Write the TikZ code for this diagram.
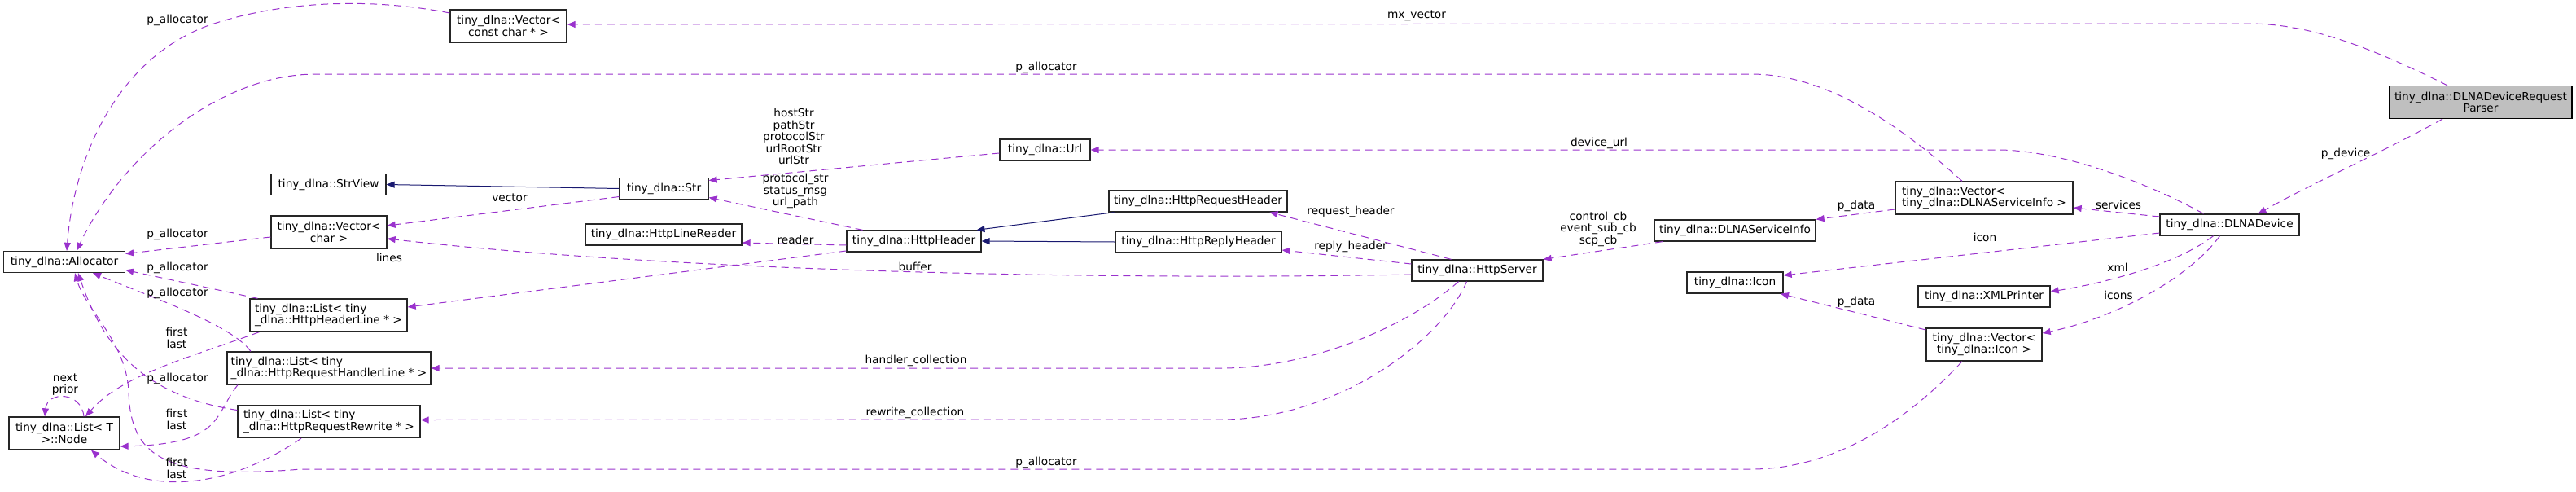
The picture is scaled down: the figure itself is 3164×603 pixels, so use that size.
\documentclass[tikz,border=0pt]{standalone}
\usepackage{fontspec}
\setmainfont{DejaVu Sans}
\usepackage[HTML]{xcolor}
\usepackage{tikz}
\usetikzlibrary{arrows.meta, calc}

\definecolor{usecol}{HTML}{9A32CD}
\definecolor{inhcol}{HTML}{191970}
\definecolor{focusfill}{HTML}{BFBFBF}
\newcommand{\dxfont}{\fontsize{13.7pt}{14.5pt}\selectfont}

\begin{document}
\begin{tikzpicture}[x=1pt, y=-1pt,
  cls/.style={draw=black!85, line width=1.3pt, fill=white, font=\dxfont, align=center, inner sep=0pt, minimum height=26pt},
  cls2/.style={cls, minimum height=40pt},
  dep/.style={usecol, line width=1pt, dash pattern=on 9pt off 6pt, -{Triangle[length=10pt,width=8pt]}},
  inh/.style={inhcol, line width=1pt, -{Triangle[length=10pt,width=8pt]}},
  lbl/.style={font=\dxfont, align=center, inner sep=0pt}]
\useasboundingbox (0,0) rectangle (3164,603);

% --- Classes ---
\node[cls2, fill=focusfill, draw=black, minimum width=224pt] (parser) at (3047,125.5) {tiny\_dlna::DLNADeviceRequest\\Parser};
\node[cls2, minimum width=143pt] (vecconst) at (624.5,32) {tiny\_dlna::Vector<\\const char * >};
\node[cls, minimum width=149pt] (alloc) at (79,321.5) {tiny\_dlna::Allocator};
\node[cls2, minimum width=136pt] (listnode) at (79,532) {tiny\_dlna::List< T\\>::Node};
\node[cls, minimum width=141pt] (strview) at (403.5,226.5) {tiny\_dlna::StrView};
\node[cls2, minimum width=142pt] (vecchar) at (404,285) {tiny\_dlna::Vector<\\char >};
\node[cls2, minimum width=193pt, align=left] (listhdr) at (403.5,387) {tiny\_dlna::List< tiny\\\_dlna::HttpHeaderLine * >};
\node[cls2, minimum width=250pt, align=left] (listhnd) at (404,452) {tiny\_dlna::List< tiny\\\_dlna::HttpRequestHandlerLine * >};
\node[cls2, minimum width=224pt, align=left] (listrw) at (404,517.5) {tiny\_dlna::List< tiny\\\_dlna::HttpRequestRewrite * >};
\node[cls, minimum width=109pt] (str) at (815.5,231.5) {tiny\_dlna::Str};
\node[cls, minimum width=192pt] (linerd) at (815,288) {tiny\_dlna::HttpLineReader};
\node[cls, minimum width=165pt] (httphdr) at (1122.5,296) {tiny\_dlna::HttpHeader};
\node[cls, minimum width=111pt] (url) at (1283.5,184) {tiny\_dlna::Url};
\node[cls, minimum width=219pt] (httpreq) at (1471.5,247) {tiny\_dlna::HttpRequestHeader};
\node[cls, minimum width=204pt] (httprep) at (1472,297) {tiny\_dlna::HttpReplyHeader};
\node[cls, minimum width=161pt] (httpsrv) at (1814.5,332) {tiny\_dlna::HttpServer};
\node[cls, minimum width=198pt] (svcinfo) at (2131,283) {tiny\_dlna::DLNAServiceInfo};
\node[cls2, minimum width=218pt, align=left] (vecsvc) at (2437,243) {tiny\_dlna::Vector<\\ tiny\_dlna::DLNAServiceInfo >};
\node[cls, minimum width=118pt] (icon) at (2131,347) {tiny\_dlna::Icon};
\node[cls, minimum width=162pt] (xmlp) at (2437,364) {tiny\_dlna::XMLPrinter};
\node[cls2, minimum width=142pt] (vecicon) at (2437,423) {tiny\_dlna::Vector<\\tiny\_dlna::Icon >};
\node[cls, minimum width=171pt] (device) at (2738.5,276) {tiny\_dlna::DLNADevice};

% --- Inheritance (solid) ---
\draw[inh] (str.west) -- (strview.east);
\draw[inh] ([xshift=-103pt]httpreq.south) -- ([xshift=77pt]httphdr.north);
\draw[inh] (httprep.west) -- (httphdr.east);

% --- Usage (dashed) ---
\draw[dep] ([xshift=-41pt]parser.north) .. controls (2900,52) and (2830,29) .. (2761,29) -- ([yshift=2pt]vecconst.east);
\draw[dep] ([xshift=-47pt]parser.south) .. controls (2930,185) and (2840,225) .. ([xshift=35pt]device.north);
\draw[dep] ([yshift=16pt]vecconst.west) .. controls (450,-4) and (340,2) .. (254,32) .. controls (140,75) and (90,200) .. ([xshift=3pt]alloc.north);
\draw[dep] ([xshift=-27pt]vecsvc.north) .. controls (2330,150) and (2240,91) .. (2151,91) -- (388,91) .. controls (270,91) and (150,190) .. ([xshift=15pt]alloc.north);
\draw[dep] ([yshift=-6pt]vecchar.west) -- ([yshift=10pt]alloc.east);
\draw[dep] ([xshift=-87pt]listhdr.north) -- ([yshift=-10pt]alloc.east);
\draw[dep] ([xshift=-96pt]listhnd.north) .. controls (285,400) and (200,370) .. ([xshift=35pt]alloc.south);
\draw[dep] ([yshift=14pt]listrw.west) .. controls (170,485) and (125,420) .. ([xshift=17pt]alloc.south);
\draw[dep] ([xshift=-27pt]vecicon.south) .. controls (2330,530) and (2240,576) .. (2151,576) -- (370,576) .. controls (200,590) and (160,560) .. (158,480) .. controls (155,420) and (105,380) .. ([xshift=13pt]alloc.south);
\draw[dep] ([yshift=-10pt]str.west) -- ([yshift=8pt]vecchar.east);
\draw[dep] ([yshift=-5pt]httpsrv.west) .. controls (1300,345) and (800,330) .. ([yshift=-8pt]vecchar.east);
\draw[dep] ([yshift=-4pt]url.west) -- ([yshift=10pt]str.east);
\draw[dep] ([xshift=-63pt]httphdr.north) -- ([yshift=-11pt]str.east);
\draw[dep] ([yshift=-5pt]httphdr.west) -- ([yshift=-10pt]linerd.east);
\draw[dep] ([yshift=-12pt]httphdr.west) -- ([yshift=10pt]listhdr.east);
\draw[dep] ([xshift=-32pt]httpsrv.north) -- ([xshift=88pt]httpreq.south);
\draw[dep] ([yshift=8pt]httpsrv.west) -- ([yshift=-10pt]httprep.east);
\draw[dep] ([xshift=-23pt]httpsrv.south) .. controls (1730,400) and (1610,452) .. (1500,452) -- (listhnd.east);
\draw[dep] ([xshift=-13pt]httpsrv.south) .. controls (1770,420) and (1640,515) .. (1500,515) -- ([yshift=2pt]listrw.east);
\draw[dep] ([xshift=-89pt]svcinfo.south) -- (httpsrv.north east);
\draw[dep] ([yshift=-14pt]vecsvc.west) -- (svcinfo.north east);
\draw[dep] ([yshift=10pt]device.west) -- ([yshift=-12pt]vecsvc.east);
\draw[dep] ([xshift=-32pt]device.north) .. controls (2620,215) and (2520,184) .. (2454,184) -- (url.east);
\draw[dep] ([yshift=-10pt]device.west) -- ([yshift=9pt]icon.east);
\draw[dep] ([xshift=-20pt]device.south) .. controls (2680,320) and (2600,345) .. ([yshift=6pt]xmlp.east);
\draw[dep] ([xshift=-12pt]device.south) .. controls (2690,340) and (2600,390) .. ([yshift=14pt]vecicon.east);
\draw[dep] ([yshift=18pt]vecicon.west) -- ([xshift=56pt]icon.south);
\draw[dep] ([xshift=24pt]listnode.north) .. controls (100,480) and (58,480) .. ([xshift=-24pt]listnode.north);
\draw[dep] ([xshift=-85pt]listhdr.south) .. controls (230,440) and (150,460) .. ([xshift=26pt]listnode.north);
\draw[dep] ([xshift=-112pt]listhnd.south) .. controls (262,510) and (275,545) .. ([yshift=-16pt]listnode.east);
\draw[dep] ([xshift=-34pt]listrw.south) .. controls (280,600) and (180,610) .. ([xshift=33pt]listnode.south);

% --- Edge labels ---
\node[lbl] (lmx) at (1740,19) {mx\_vector};
\node[lbl] (ldev) at (2881,189) {p\_device};
\node[lbl] (la1) at (218,25) {p\_allocator};
\node[lbl] (la2) at (1285,83) {p\_allocator};
\node[lbl] (la3) at (218,288) {p\_allocator};
\node[lbl] (la4) at (218,329) {p\_allocator};
\node[lbl] (la5) at (218,360) {p\_allocator};
\node[lbl] (la6) at (218,465) {p\_allocator};
\node[lbl] (la7) at (1285,568) {p\_allocator};
\node[lbl] (lvec) at (626,243) {vector};
\node[lbl] (lbuf) at (1124,327) {buffer};
\node[lbl] (lurl) at (975,167.5) {hostStr\\pathStr\\protocolStr\\urlRootStr\\urlStr};
\node[lbl] (lhdr) at (977,234.5) {protocol\_str\\status\_msg\\url\_path};
\node[lbl] (lrd) at (977,294) {reader};
\node[lbl] (llines) at (478,316) {lines};
\node[lbl] (lreq) at (1659,260) {request\_header};
\node[lbl] (lrep) at (1659,303) {reply\_header};
\node[lbl] (lhnd) at (1125,443) {handler\_collection};
\node[lbl] (lrw) at (1124,507) {rewrite\_collection};
\node[lbl] (lcb) at (1963,281) {control\_cb\\event\_sub\_cb\\scp\_cb};
\node[lbl] (lpd1) at (2280,253) {p\_data};
\node[lbl] (lsvc) at (2602,251) {services};
\node[lbl] (ldurl) at (1964,176) {device\_url};
\node[lbl] (licon) at (2438,291) {icon};
\node[lbl] (lxml) at (2601,328) {xml};
\node[lbl] (licons) at (2602,362) {icons};
\node[lbl] (lpd2) at (2280,371) {p\_data};
\node[lbl] (lnp) at (80,472) {next\\prior};
\node[lbl] (lfl1) at (217,415) {first\\last};
\node[lbl] (lfl2) at (217,515) {first\\last};
\node[lbl] (lfl3) at (217,575) {first\\last};
\end{tikzpicture}
\end{document}
